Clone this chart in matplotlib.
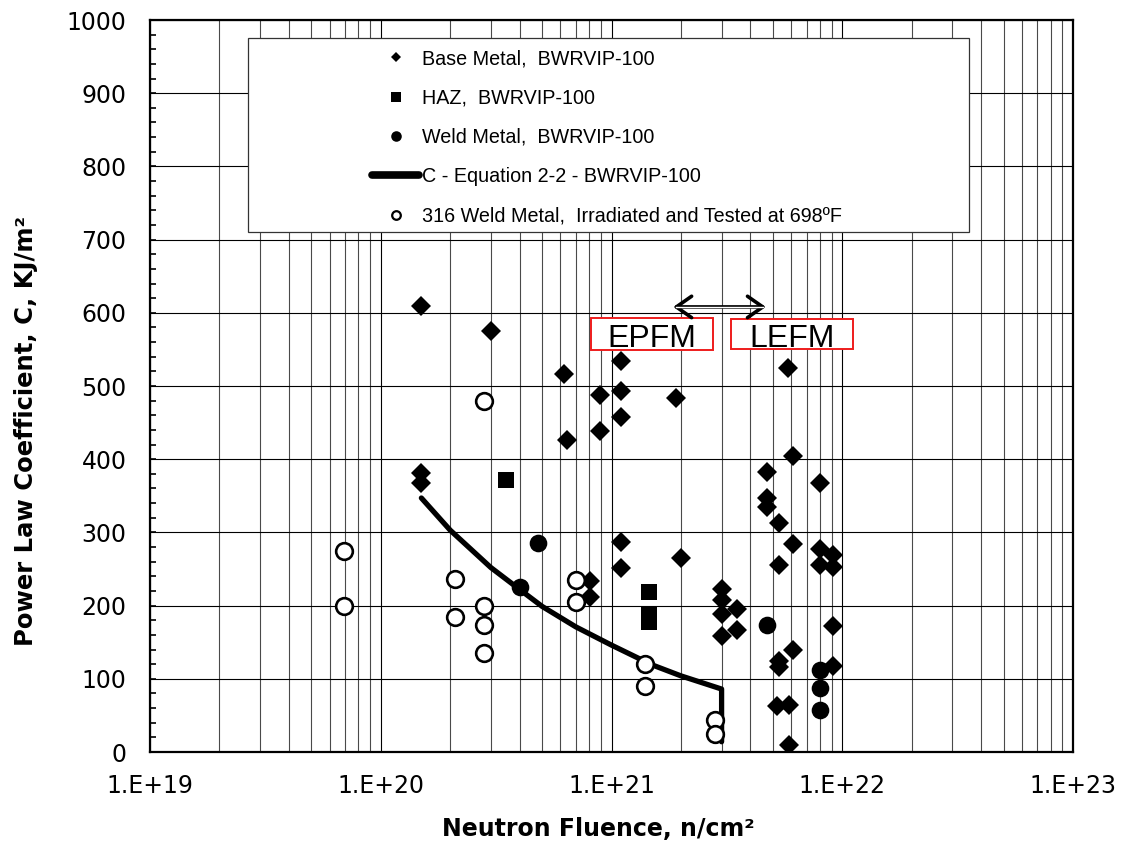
import matplotlib
matplotlib.use('Agg')
import matplotlib.pyplot as plt
from matplotlib.patches import Rectangle, FancyArrowPatch
from matplotlib.lines import Line2D
from matplotlib.ticker import FixedLocator, FixedFormatter, MultipleLocator, NullFormatter, LogLocator

# ---------------- data ----------------
base_x = [1.5e20, 1.5e20, 1.5e20, 3.0e20, 6.25e20, 6.4e20, 8.9e20, 8.9e20,
          1.1e21, 1.1e21, 1.1e21, 1.1e21, 1.1e21, 8.1e20, 8.1e20, 1.9e21, 2.0e21,
          3.0e21, 3.0e21, 3.0e21, 3.0e21, 3.5e21, 3.5e21,
          4.7e21, 4.7e21, 4.7e21, 5.3e21, 5.3e21, 5.3e21, 5.3e21,
          5.8e21, 6.1e21, 6.1e21, 6.1e21, 5.2e21, 5.9e21, 5.9e21,
          8.0e21, 8.0e21, 8.0e21, 9.1e21, 9.1e21, 9.1e21, 9.1e21]
base_y = [609, 381, 368, 575, 516, 426, 488, 438,
          534, 493, 457, 287, 252, 233, 212, 483, 265,
          222, 208, 189, 159, 196, 167,
          382, 347, 335, 313, 255, 125, 116,
          525, 404, 284, 140, 63, 64, 9,
          367, 277, 256, 269, 253, 172, 117]

haz_x = [3.5e20, 1.45e21, 1.45e21, 1.45e21]
haz_y = [372, 218, 188, 178]

weld_x = [4.8e20, 4.0e20, 4.7e21, 8.0e21, 8.0e21, 8.0e21]
weld_y = [285, 225, 173, 112, 87, 58]

w316_x = [6.9e19, 6.9e19, 2.8e20, 2.1e20, 2.1e20, 2.8e20, 2.8e20, 2.8e20,
          7.0e20, 7.0e20, 1.4e21, 1.4e21, 2.8e21, 2.8e21]
w316_y = [275, 200, 480, 236, 185, 200, 174, 135,
          235, 205, 120, 90, 44, 25]

curve_x = [1.5e20, 2e20, 3e20, 4e20, 5e20, 7e20, 1e21, 1.5e21, 2e21, 3e21, 3e21]
curve_y = [347, 303, 252, 222, 199, 171, 146, 119, 104, 86, 14]

legend_labels = ['Base Metal,  BWRVIP-100',
                 'HAZ,  BWRVIP-100',
                 'Weld Metal,  BWRVIP-100',
                 'C - Equation 2-2 - BWRVIP-100',
                 '316 Weld Metal,  Irradiated and Tested at 698ºF']

xtick_vals = [1e19, 1e20, 1e21, 1e22, 1e23]
xtick_labels = ['1.E+19', '1.E+20', '1.E+21', '1.E+22', '1.E+23']
ytick_vals = list(range(0, 1001, 100))

arrow_x = [1.8e21, 4.8e21]
arrow_y = 608

# ---------------- figure ----------------
fig = plt.figure(figsize=(11.42, 8.44), dpi=100)
ax = fig.add_axes([150/1142, 1-752/844, 923/1142, 732/844])
ax.set_xscale('log')
ax.set_xlim(1e19, 1e23)
ax.set_ylim(0, 1000)

ax.xaxis.set_major_locator(FixedLocator(xtick_vals))
ax.xaxis.set_major_formatter(FixedFormatter(xtick_labels))
ax.xaxis.set_minor_locator(LogLocator(base=10, subs=range(2, 10), numticks=50))
ax.xaxis.set_minor_formatter(NullFormatter())
ax.yaxis.set_major_locator(FixedLocator(ytick_vals))
ax.yaxis.set_minor_locator(MultipleLocator(20))

ax.set_axisbelow(True)
ax.grid(which='major', axis='x', color='black', lw=0.8)
ax.grid(which='minor', axis='x', color='#4a4a4a', lw=0.8)
ax.grid(which='major', axis='y', color='black', lw=0.8)

ax.tick_params(axis='both', which='both', direction='in', top=False, right=False)
ax.tick_params(axis='y', which='both', length=4.5, width=1.2, pad=17, labelsize=17)
ax.tick_params(axis='x', which='both', length=0, pad=16, labelsize=17)
for lab in ax.get_xticklabels() + ax.get_yticklabels():
    lab.set_family('DejaVu Sans')

for sp in ax.spines.values():
    sp.set_linewidth(1.6)
    sp.set_color('black')

# data
ax.plot(curve_x, curve_y, color='black', lw=3.8, solid_capstyle='round', solid_joinstyle='round', zorder=3)
ax.plot(base_x, base_y, ls='none', marker='D', ms=10.5, color='black', mew=0, zorder=4)
ax.plot(haz_x, haz_y, ls='none', marker='s', ms=11.3, color='black', mew=0, zorder=4)
ax.plot(weld_x, weld_y, ls='none', marker='o', ms=12.7, color='black', mew=0, zorder=4)
ax.plot(w316_x, w316_y, ls='none', marker='o', ms=12, mfc='white', mec='black', mew=1.9, zorder=5)

# legend box
ax.add_patch(Rectangle((0.1062, 0.7104), 0.8873-0.1062, 0.9754-0.7104, transform=ax.transAxes,
                       facecolor='white', edgecolor='#333333', lw=0.9, zorder=2))
handles = [Line2D([], [], ls='none', marker='D', ms=5.5, color='black', mew=0),
           Line2D([], [], ls='none', marker='s', ms=7.4, color='black', mew=0),
           Line2D([], [], ls='none', marker='o', ms=7.6, color='black', mew=0),
           Line2D([], [], color='black', lw=5.5, solid_capstyle='round'),
           Line2D([], [], ls='none', marker='o', ms=6.2, mfc='white', mec='black', mew=1.6)]
leg = ax.legend(handles, legend_labels, loc='upper left', bbox_to_anchor=(0.2405, 0.9600),
                frameon=False, borderpad=0, borderaxespad=0, handlelength=2.4,
                handletextpad=0.15, labelspacing=1.03, numpoints=1,
                prop={'family': 'Liberation Sans', 'size': 14.2})
leg.set_zorder(6)

# EPFM / LEFM boxes
ax.add_patch(Rectangle((0.4778, 0.5492), 0.6100-0.4778, 0.5929-0.5492, transform=ax.transAxes,
                       facecolor='white', edgecolor='#ee1c1c', lw=1.4, zorder=2))
ax.add_patch(Rectangle((0.6295, 0.5505), 0.7617-0.6295, 0.5915-0.5505, transform=ax.transAxes,
                       facecolor='white', edgecolor='#ee1c1c', lw=1.4, zorder=2))
ax.text(0.5439, 0.5533, 'EPFM', transform=ax.transAxes, ha='center', va='baseline',
        fontsize=23, family='Liberation Sans', zorder=3)
ax.text(0.6956, 0.5533, 'LEFM', transform=ax.transAxes, ha='center', va='baseline',
        fontsize=23, family='Liberation Sans', zorder=3)

# double arrow
arr = FancyArrowPatch((arrow_x[0], arrow_y), (arrow_x[1], arrow_y),
                      arrowstyle='<->,head_length=0.5,head_width=0.35', mutation_scale=22,
                      color='black', lw=2.6, zorder=4)
ax.add_patch(arr)
ax.plot([arrow_x[0]*1.06, arrow_x[1]/1.06], [arrow_y, arrow_y], color='white', lw=1.0, zorder=5)

# axis labels
fig.text(598/1142, 1-829/844, 'Neutron Fluence, n/cm²', ha='center', va='center',
         fontsize=17, fontweight='bold', family='DejaVu Sans')
fig.text(26/1142, 1-431/844, 'Power Law Coefficient, C, KJ/m²', ha='center', va='center',
         rotation=90, fontsize=17.5, fontweight='bold', family='DejaVu Sans')

fig.savefig('out.png', dpi=100)
